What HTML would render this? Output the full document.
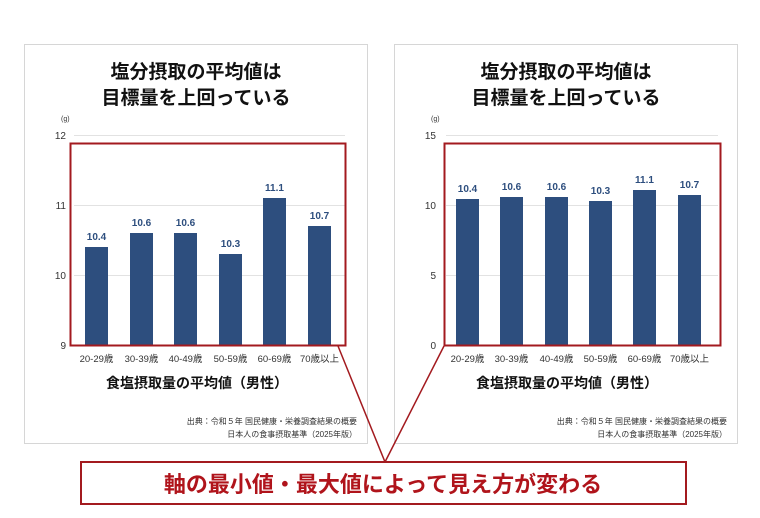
<!DOCTYPE html>
<html><head><meta charset="utf-8"><style>
body{margin:0;background:#fff;}
svg text{font-family:"Liberation Sans","Noto Sans CJK JP",sans-serif;}
</style></head><body>
<svg width="760" height="513" viewBox="0 0 760 513" xmlns="http://www.w3.org/2000/svg">
<rect x="0" y="0" width="760" height="513" fill="#fff"/>
<!-- panels -->
<rect x="24.5" y="44.5" width="343" height="399" fill="#fff" stroke="#d6d6d6"/>
<rect x="394.5" y="44.5" width="343" height="399" fill="#fff" stroke="#d6d6d6"/>

<!-- LEFT -->
<g>
<text x="196" y="78" font-size="19" font-weight="bold" text-anchor="middle" fill="#111">塩分摂取の平均値は</text>
<text x="196" y="104" font-size="19" font-weight="bold" text-anchor="middle" fill="#111">目標量を上回っている</text>
<text x="61" y="121" font-size="7" fill="#333">(g)</text>
<g stroke="#e2e2e2" stroke-width="1">
<line x1="74" y1="135.5" x2="345" y2="135.5"/><line x1="74" y1="205.5" x2="345" y2="205.5"/><line x1="74" y1="275.5" x2="345" y2="275.5"/>
</g>
<g font-size="10" fill="#333" text-anchor="end">
<text x="66" y="139">12</text><text x="66" y="209">11</text><text x="66" y="279">10</text><text x="66" y="349">9</text>
</g>
<g fill="#2d4e7e">
<rect x="85" y="247" width="23" height="98"/>
<rect x="130" y="233" width="23" height="112"/>
<rect x="174" y="233" width="23" height="112"/>
<rect x="219" y="254" width="23" height="91"/>
<rect x="263" y="198" width="23" height="147"/>
<rect x="308" y="226" width="23" height="119"/>
</g>
<g font-size="10" font-weight="bold" fill="#2d4e7e" text-anchor="middle">
<text x="96.5" y="240">10.4</text><text x="141.5" y="226">10.6</text><text x="185.5" y="226">10.6</text>
<text x="230.5" y="247">10.3</text><text x="274.5" y="191">11.1</text><text x="319.5" y="219">10.7</text>
</g>
<rect x="70.5" y="143.5" width="275" height="202" fill="none" stroke="#a31a1f" stroke-width="2"/>
<g font-size="9.5" fill="#333" text-anchor="middle">
<text x="96.5" y="362">20-29歳</text><text x="141.5" y="362">30-39歳</text><text x="185.5" y="362">40-49歳</text>
<text x="230.5" y="362">50-59歳</text><text x="274.5" y="362">60-69歳</text><text x="319.5" y="362">70歳以上</text>
</g>
<text x="197" y="388" font-size="14" font-weight="bold" text-anchor="middle" fill="#111">食塩摂取量の平均値（男性）</text>
<text x="357" y="424" font-size="8" text-anchor="end" fill="#333">出典：令和５年 国民健康・栄養調査結果の概要</text>
<text x="357" y="437" font-size="8" text-anchor="end" fill="#333">日本人の食事摂取基準（2025年版）</text>
</g>

<!-- RIGHT -->
<g>
<text x="566" y="78" font-size="19" font-weight="bold" text-anchor="middle" fill="#111">塩分摂取の平均値は</text>
<text x="566" y="104" font-size="19" font-weight="bold" text-anchor="middle" fill="#111">目標量を上回っている</text>
<text x="431" y="121" font-size="7" fill="#333">(g)</text>
<g stroke="#e2e2e2" stroke-width="1">
<line x1="446" y1="135.5" x2="718" y2="135.5"/><line x1="446" y1="205.5" x2="718" y2="205.5"/><line x1="446" y1="275.5" x2="718" y2="275.5"/>
</g>
<g font-size="10" fill="#333" text-anchor="end">
<text x="436" y="139">15</text><text x="436" y="209">10</text><text x="436" y="279">5</text><text x="436" y="349">0</text>
</g>
<g fill="#2d4e7e">
<rect x="456" y="199" width="23" height="146"/>
<rect x="500" y="197" width="23" height="148"/>
<rect x="545" y="197" width="23" height="148"/>
<rect x="589" y="201" width="23" height="144"/>
<rect x="633" y="190" width="23" height="155"/>
<rect x="678" y="195" width="23" height="150"/>
</g>
<g font-size="10" font-weight="bold" fill="#2d4e7e" text-anchor="middle">
<text x="467.5" y="192">10.4</text><text x="511.5" y="190">10.6</text><text x="556.5" y="190">10.6</text>
<text x="600.5" y="194">10.3</text><text x="644.5" y="183">11.1</text><text x="689.5" y="188">10.7</text>
</g>
<rect x="444.5" y="143.5" width="276" height="202" fill="none" stroke="#a31a1f" stroke-width="2"/>
<g font-size="9.5" fill="#333" text-anchor="middle">
<text x="467.5" y="362">20-29歳</text><text x="511.5" y="362">30-39歳</text><text x="556.5" y="362">40-49歳</text>
<text x="600.5" y="362">50-59歳</text><text x="644.5" y="362">60-69歳</text><text x="689.5" y="362">70歳以上</text>
</g>
<text x="567" y="388" font-size="14" font-weight="bold" text-anchor="middle" fill="#111">食塩摂取量の平均値（男性）</text>
<text x="727" y="424" font-size="8" text-anchor="end" fill="#333">出典：令和５年 国民健康・栄養調査結果の概要</text>
<text x="727" y="437" font-size="8" text-anchor="end" fill="#333">日本人の食事摂取基準（2025年版）</text>
</g>

<!-- connectors -->
<line x1="338" y1="346" x2="385" y2="462" stroke="#a31a1f" stroke-width="1.5"/>
<line x1="444" y1="346" x2="385" y2="462" stroke="#a31a1f" stroke-width="1.5"/>
<rect x="81" y="462" width="605" height="42" fill="#fff" stroke="#a31a1f" stroke-width="2"/>
<text x="383" y="492" font-size="22" font-weight="bold" text-anchor="middle" fill="#b0141b">軸の最小値・最大値によって見え方が変わる</text>
</svg>
</body></html>
